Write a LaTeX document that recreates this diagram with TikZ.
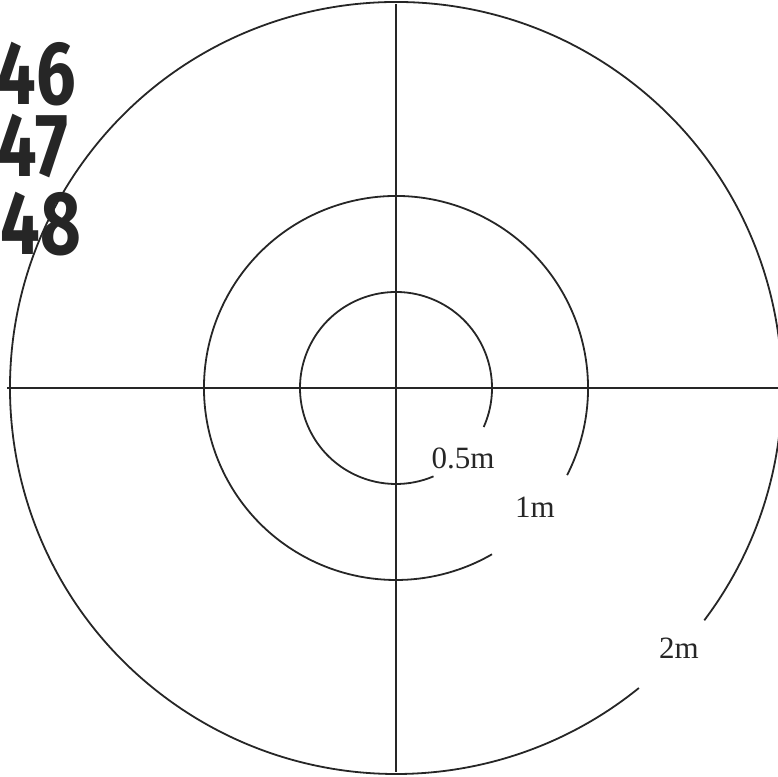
\documentclass[tikz,border=0pt]{standalone}
\usepackage{fontspec}
\setmainfont{Liberation Serif}
\newfontfamily\handfont{Fira Sans}
\usepackage{tikz}
\usetikzlibrary{positioning}

\begin{document}
\begin{tikzpicture}[x=1pt, y=1pt,
    ring/.style={line width=1.8pt, draw=black!85},
    axis/.style={line width=1.8pt, draw=black!85},
    lbl/.style={font=\fontsize{31}{34}\selectfont, text=black!85, inner sep=0pt},
    hand/.style={font=\handfont\bfseries\fontsize{90}{92}\selectfont, text=black!85,
                 inner sep=0pt, xscale=0.78, anchor=east}]
  \useasboundingbox (0,0) rectangle (778,776);
  \clip (0,0) rectangle (778,776);
  \coordinate (c) at (396,388);
  % cross
  \coordinate (top) at (396,772);
  \coordinate (bot) at (396,4);
  \coordinate (lft) at (7,388);
  \coordinate (rgt) at (780,388);
  \draw[axis] (top) -- (bot);
  \draw[axis] (lft) -- (rgt);
  % rings with a gap for the label
  \draw[ring] (c) ++(-24:96) arc[start angle=-24, end angle=293, radius=96];
  \draw[ring] (c) ++(-27:192) arc[start angle=-27, end angle=300, radius=192];
  \draw[ring] (c) ++(-37:386) arc[start angle=-37, end angle=309, radius=386];
  % labels
  \node[lbl] (half) at (463,318) {0.5m};
  \node[lbl] (one) at (535,269) {1m};
  \node[lbl] (two) at (679,128) {2m};
  % handwritten numbers
  \node[hand] (n46) at (76,702) {46};
  \node[hand] (n47) at (68,630) {47};
  \node[hand] (n48) at (81,552) {48};
\end{tikzpicture}
\end{document}
